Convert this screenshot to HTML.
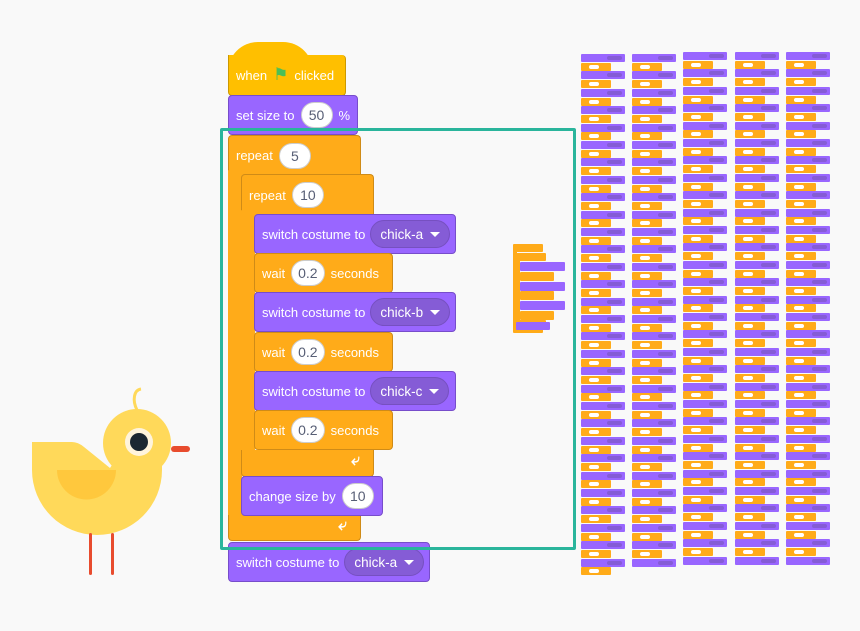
<!DOCTYPE html>
<html><head><meta charset="utf-8"><style>
body{margin:0;background:#f9f9f9;width:860px;height:631px;overflow:hidden;position:relative;font-family:"Liberation Sans",sans-serif}
.b{position:absolute;box-sizing:border-box;color:#fff;font-size:13px;display:flex;align-items:center;padding-left:7px;white-space:nowrap}
.o{background:#ffab19;border:1px solid #cf8b17}
.p{background:#9966ff;border:1px solid #774dcb}
.h{background:#ffbf00;border:1px solid #cc9900}
.in{background:#fff;color:#575e75;border-radius:14px;height:26px;min-width:32px;padding:0 6px;box-sizing:border-box;display:inline-flex;align-items:center;justify-content:center;margin:0 6px;border:1px solid #ccc;font-size:14px}
.dd{background:#855cd6;border:1px solid #7650c0;border-radius:14px;height:28px;padding:0 9px;box-sizing:border-box;display:inline-flex;align-items:center;margin-left:5px;font-size:13.5px}
.dd:after{content:"";border-left:5px solid transparent;border-right:5px solid transparent;border-top:5px solid #fff;margin-left:7px}
.arr{position:absolute;color:#fff;font-size:16px;font-weight:bold}
.s{position:absolute;border-radius:1px}
</style></head><body>
<svg style="position:absolute;left:0;top:0" width="220" height="631">
<path d="M137,410 C132,400 134,390 141,389" stroke="#ffd95a" stroke-width="3" fill="none"/>
<path d="M32,442 L72,442 Q78,442 84,447 L110,468 L125,445 L162,445 L162,470 A65,65 0 0 1 32,470 Z" fill="#ffd95a"/>
<circle cx="137" cy="443" r="34" fill="#ffd95a"/>
<path d="M57,470 L116,470 A29.5,29.5 0 0 1 57,470 Z" fill="#ffc83d"/>
<circle cx="139" cy="442" r="14" fill="#fff4dc"/>
<circle cx="139" cy="442" r="9" fill="#1b2732"/>
<rect x="171" y="446" width="19" height="6" rx="3" fill="#e84c2e"/>
<rect x="89" y="533" width="3" height="42" rx="1.5" fill="#e84c2e"/>
<rect x="111" y="533" width="3" height="42" rx="1.5" fill="#e84c2e"/>
</svg>

<div class="s" style="left:228px;top:42px;width:85px;height:30px;background:#ffbf00;border-radius:42px 42px 0 0"></div>
<div class="b h" style="left:228px;top:55px;width:118px;height:41px;border-top:none;border-radius:0 4px 4px 4px">when <span style="color:#4cbf56;font-size:17px;margin:0 6px">&#9873;</span> clicked</div>
<div class="b p" style="left:228px;top:95px;width:130px;height:40px;border-radius:4px">set size to <span class="in">50</span> %</div>

<div class="b o" style="left:228px;top:135px;width:133px;height:40px;border-radius:4px 4px 0 0;border-bottom:none">repeat <span class="in">5</span></div>
<div class="s" style="left:228px;top:170px;width:14px;height:350px;background:#ffab19"></div>
<div class="b o" style="left:228px;top:515px;width:133px;height:26px;border-radius:0 0 4px 4px;border-top:none"></div>
<div class="arr" style="left:338px;top:517px">&#10550;</div>

<div class="b o" style="left:241px;top:174px;width:133px;height:41px;border-radius:4px 4px 0 0;border-bottom:none">repeat <span class="in">10</span></div>
<div class="s" style="left:241px;top:210px;width:14px;height:245px;background:#ffab19"></div>
<div class="b o" style="left:241px;top:450px;width:133px;height:27px;border-radius:0 0 4px 4px;border-top:none"></div>
<div class="arr" style="left:351px;top:452px">&#10550;</div>

<div class="b p" style="left:254px;top:214px;width:202px;height:40px;border-radius:4px">switch costume to <span class="dd">chick-a</span></div>
<div class="b o" style="left:254px;top:253px;width:139px;height:40px;border-radius:4px">wait <span class="in">0.2</span> seconds</div>
<div class="b p" style="left:254px;top:292px;width:202px;height:40px;border-radius:4px">switch costume to <span class="dd">chick-b</span></div>
<div class="b o" style="left:254px;top:332px;width:139px;height:40px;border-radius:4px">wait <span class="in">0.2</span> seconds</div>
<div class="b p" style="left:254px;top:371px;width:202px;height:40px;border-radius:4px">switch costume to <span class="dd">chick-c</span></div>
<div class="b o" style="left:254px;top:410px;width:139px;height:40px;border-radius:4px">wait <span class="in">0.2</span> seconds</div>

<div class="b p" style="left:241px;top:476px;width:142px;height:40px;border-radius:4px">change size by <span class="in">10</span></div>
<div class="b p" style="left:228px;top:542px;width:202px;height:40px;border-radius:4px">switch costume to <span class="dd">chick-a</span></div>

<div style="position:absolute;left:220px;top:128px;width:350px;height:416px;border:3px solid #2ab59c;border-radius:2px"></div>

<div class="s" style="left:513px;top:244px;width:30px;height:8px;background:#ffab19"></div>
<div class="s" style="left:513px;top:250px;width:4px;height:82px;background:#ffab19"></div>
<div class="s" style="left:513px;top:328px;width:30px;height:5px;background:#ffab19"></div>
<div class="s" style="left:516px;top:253px;width:30px;height:8px;background:#ffab19"></div>
<div class="s" style="left:516px;top:258px;width:4px;height:66px;background:#ffab19"></div>
<div class="s" style="left:516px;top:320px;width:30px;height:6px;background:#ffab19"></div>
<div id="mini"></div>
<div id="cols"></div>
<script>
var m=document.getElementById('mini'),h='';
for(var i=0;i<6;i++){var y=262+i*9.8;h+='<div class="s" style="left:520px;top:'+y+'px;width:'+(i%2?34:45)+'px;height:9px;background:'+(i%2?'#ffab19':'#9966ff')+'"></div>';}
h+='<div class="s" style="left:516px;top:322px;width:34px;height:8px;background:#9966ff"></div>';
m.innerHTML=h;
var c=document.getElementById('cols');h='';
var xs=[581,632,683,735,786],st=[54,54,52,52,52],en=[577,575,573,573,573];
for(var k=0;k<5;k++){for(var j=0;;j++){var y=st[k]+j*8.7;if(y+8>en[k])break;var pu=j%2==0;
h+='<div class="s" style="left:'+xs[k]+'px;top:'+y+'px;width:'+(pu?44:30)+'px;height:8px;background:'+(pu?'#9966ff':'#ffab19')+'"><div style="position:absolute;left:'+(pu?26:8)+'px;top:2px;width:'+(pu?15:10)+'px;height:4px;border-radius:2px;background:'+(pu?'#855cd6':'#fff')+'"></div></div>';}}
c.innerHTML=h;
</script>
</body></html>
